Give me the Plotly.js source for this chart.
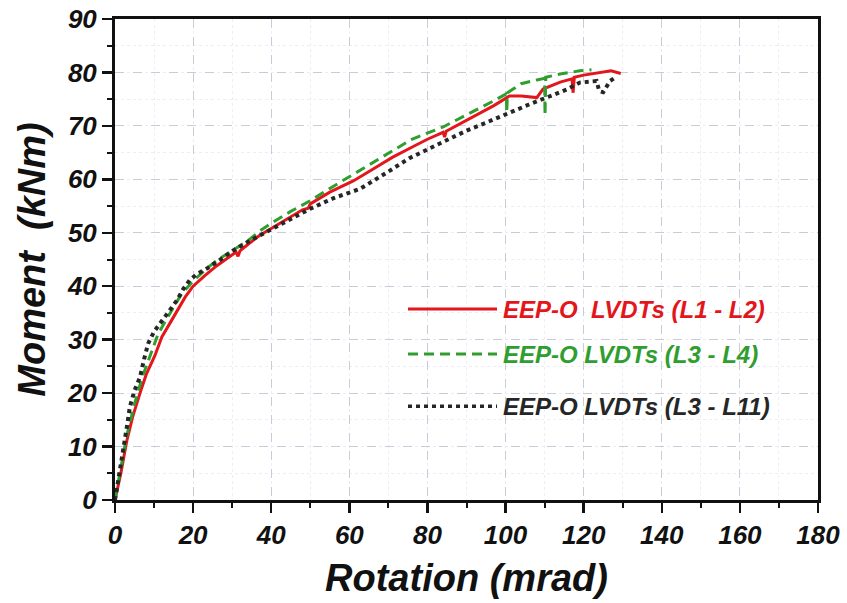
<!DOCTYPE html>
<html>
<head>
<meta charset="utf-8">
<script src="https://cdn.plot.ly/plotly-3.0.1.min.js"></script>
<style>html,body{margin:0;padding:0;background:#fff;}#chart{width:847px;height:603px;}</style>
</head>
<body>
<div id="chart"></div>
<script>
// Series 1: EEP-O LVDTs (L1 - L2)
const redX = [0,1.5,3,4.5,6.4,8,10.2,12,14,16,18,20,23,26,29,31,31.5,32,34,37,40,44,48,49.5,50,55,61,66,71,76,80,84,84.4,84.8,90,97,101,104,108,109.6,114,117,117.3,117.6,120,124,127,129.5];
const redY = [0,5,11,15.5,20,23.5,27,30.5,33,35.5,38,40,42,43.8,45.4,46.4,45.6,46.6,47.8,49.5,50.8,52.5,54.3,54.6,55.4,57.6,59.7,61.9,64.1,66,67.5,68.8,67.9,69,71,73.8,75.6,75.6,75.3,76.9,78.2,78.8,76.2,79.1,79.5,80,80.3,79.8];
// Series 2: EEP-O LVDTs (L3 - L4)
const greenX = [0,1.5,3,5,7,9,11,13,15,17,20,23,26,30,34,37,40,45,50,55,60,66,71,76,84,90,97,100.2,100.3,100.5,104,108,110,110.1,110.3,114,119,122];
const greenY = [0,6,12,18,23,27,31,33.6,36,38.5,41,43,44.8,46.7,48.5,50.3,51.8,54,56,58.3,60.5,63,65.3,67.5,69.8,72,74.7,76,72.5,76.2,77.9,78.6,78.9,72,79.1,79.7,80.3,80.5];
// Series 3: EEP-O LVDTs (L3 - L11)
const blackX = [0,1,2,3,3.8,5,6.4,7.5,8.5,10,11.5,13.5,15.8,17.5,19.2,21,23.5,27,30.3,34,38,42,46,50,56,62.7,69,75.5,82,90,95,101,106,110.5,115.6,119,121,123.3,124,125,126,126.7,128];
const blackY = [0,4,9,13.5,17.4,20.5,23,26.5,29.3,31.5,33,35.3,37.3,39.5,41.2,42.3,43.3,45,46.7,48.3,49.8,51.3,52.8,54.5,56.5,58.2,61,64,66.3,69.1,70.6,72.5,74,75.3,76.8,78.1,78.3,78.4,76.5,76.3,77.5,78.4,79];

const seriesNames = ["EEP-O  LVDTs (L1 - L2)", "EEP-O LVDTs (L3 - L4)", "EEP-O LVDTs (L3 - L11)"];
const xTickVals = [0,20,40,60,80,100,120,140,160,180];
const yTickVals = [0,10,20,30,40,50,60,70,80,90];

const colors = ["#e3161c", "#2f9e2f", "#262626"];
const dashes = ["solid", "10px,6px", "4px,4px"];
const widths = [3, 3, 4];

const traces = [0, 1, 2].map(function (i) {
  const xs = [redX, greenX, blackX][i];
  const ys = [redY, greenY, blackY][i];
  return {x: xs, y: ys, name: seriesNames[i], type: "scatter", mode: "lines",
    line: {color: colors[i], width: widths[i], dash: dashes[i]}, showlegend: false};
});

const tickFont = {family: "Liberation Sans, Arial, sans-serif", size: 26, color: "#111", weight: "bold", style: "italic"};
const titleFont = {family: "Liberation Sans, Arial, sans-serif", size: 38, color: "#111", weight: "bold", style: "italic"};

const axisCommon = {
  showline: true, linecolor: "#111", linewidth: 3, mirror: true,
  ticks: "outside", ticklen: 10, tickwidth: 2.5, tickcolor: "#111",
  showgrid: true, gridcolor: "#c9cbd8", gridwidth: 1, griddash: "dash",
  zeroline: false, tickfont: tickFont
};

const legendYs = [0.397, 0.3035, 0.195];
const shapes = [];
const annotations = [];
for (let i = 0; i < 3; i++) {
  shapes.push({type: "line", xref: "paper", yref: "paper", x0: 0.4168, x1: 0.5434, y0: legendYs[i], y1: legendYs[i],
    line: {color: colors[i], width: widths[i] === 4 ? 3.5 : 3, dash: dashes[i]}});
  annotations.push({xref: "paper", yref: "paper", x: 0.549, y: legendYs[i], xanchor: "left", yanchor: "middle",
    text: seriesNames[i].replace("  ", " &nbsp;"), showarrow: false,
    font: {family: "Liberation Sans, Arial, sans-serif", size: 24, color: colors[i], weight: "bold", style: "italic"}});
}

const layout = {
  width: 847, height: 603,
  margin: {l: 115, r: 29, t: 19, b: 103},
  paper_bgcolor: "#fff", plot_bgcolor: "#fff",
  xaxis: Object.assign({}, axisCommon, {
    range: [0, 180], tickvals: xTickVals, ticktext: xTickVals.map(String),
    minor: {dtick: 10, ticks: "outside", ticklen: 5, tickwidth: 2, tickcolor: "#111", showgrid: true, gridcolor: "#eceef4", griddash: "dot"},
    title: {text: "Rotation (mrad)", font: titleFont, standoff: 16}
  }),
  yaxis: Object.assign({}, axisCommon, {
    range: [0, 90], tickvals: yTickVals, ticktext: yTickVals.map(String),
    minor: {dtick: 5, ticks: "outside", ticklen: 5, tickwidth: 2, tickcolor: "#111", showgrid: true, gridcolor: "#eceef4", griddash: "dot"},
    title: {text: "Moment &nbsp;(kNm)", font: titleFont, standoff: 10}
  }),
  shapes: shapes,
  annotations: annotations
};

Plotly.newPlot("chart", traces, layout, {staticPlot: true});
</script>
</body>
</html>
